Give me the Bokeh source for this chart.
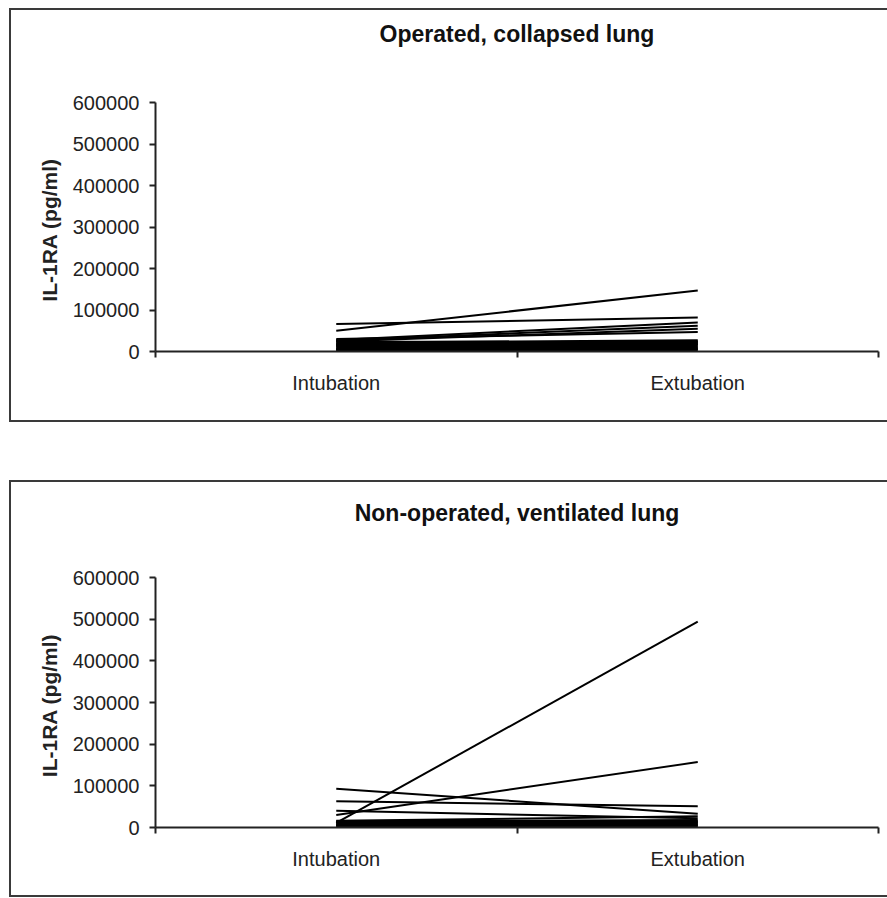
from bokeh.plotting import figure
from bokeh.layouts import column
from bokeh.models import Range1d, FixedTicker, BasicTickFormatter, ColumnDataSource, Title
from bokeh.embed import file_html
from bokeh.resources import INLINE

categories = ["Intubation", "Extubation"]
y_ticks = [0, 100000, 200000, 300000, 400000, 500000, 600000]

titles = ["Operated, collapsed lung", "Non-operated, ventilated lung"]
y_label = "IL-1RA  (pg/ml)"

collapsed_intubation = [50000, 66000, 28000, 30000, 26000, 24000, 22000, 20000, 18000, 16000,
                        14000, 12000, 10000, 8000, 6000, 4000, 2000, 25000, 15000, 5000]
collapsed_extubation = [147000, 82000, 70000, 47000, 62000, 55000, 27000, 25000, 22000, 20000,
                        18000, 15000, 12000, 10000, 8000, 5000, 3000, 17000, 6000, 23000]

ventilated_intubation = [11000, 30000, 93000, 63000, 40000, 16000, 14000, 12000, 10000, 8000,
                         6000, 4000, 2000, 15000, 5000]
ventilated_extubation = [494000, 157000, 33000, 51000, 22000, 27000, 15000, 12000, 10000, 8000,
                         6000, 4000, 2000, 18000, 14000]

FONT = "Liberation Sans"
AXIS_COLOR = "#222222"


def make_panel(title, intub, extub, height, top, bottom, gap):
    centers = [i + 0.5 for i in range(len(categories))]
    bounds = list(range(len(categories) + 1))
    p = figure(width=878, height=height, output_backend="svg", toolbar_location=None,
               x_range=Range1d(0, len(categories)), y_range=Range1d(y_ticks[0], y_ticks[-1]),
               min_border_left=144, min_border_right=11, min_border_top=top,
               min_border_bottom=bottom, title=None)
    p.styles = {"border-top": "2px solid #3a3a3a", "border-left": "2px solid #3a3a3a",
                "border-bottom": "2px solid #3a3a3a"}
    p.outline_line_color = None
    p.grid.visible = False

    # an invisible spacer keeps the title away from the plot frame
    p.add_layout(Title(text=" ", text_font_size="10px", standoff=gap), "above")
    p.add_layout(Title(text=title, align="center", text_font=FONT, text_font_size="23px",
                       text_font_style="bold", text_color="#111111"), "above")

    xs = [[centers[0], centers[1]] for _ in intub]
    ys = [[a, b] for a, b in zip(intub, extub)]
    src = ColumnDataSource(dict(xs=xs, ys=ys))
    p.multi_line("xs", "ys", source=src, line_color="black", line_width=2)

    xa = p.xaxis[0]
    xa.ticker = FixedTicker(ticks=centers, minor_ticks=bounds)
    xa.major_label_overrides = {c: cat for c, cat in zip(centers, categories)}
    xa.major_tick_out = 0
    xa.major_tick_in = 0
    xa.minor_tick_out = 6
    xa.minor_tick_in = 0
    xa.minor_tick_line_color = AXIS_COLOR
    xa.minor_tick_line_width = 2
    xa.axis_line_color = AXIS_COLOR
    xa.axis_line_width = 2
    xa.major_label_text_font = FONT
    xa.major_label_text_font_size = "20px"
    xa.major_label_text_color = "#222222"
    xa.major_label_standoff = 14

    ya = p.yaxis[0]
    ya.ticker = FixedTicker(ticks=y_ticks)
    ya.formatter = BasicTickFormatter(use_scientific=False)
    ya.minor_tick_line_color = None
    ya.major_tick_out = 6
    ya.major_tick_in = 0
    ya.major_tick_line_color = AXIS_COLOR
    ya.major_tick_line_width = 2
    ya.axis_line_color = AXIS_COLOR
    ya.axis_line_width = 2
    ya.major_label_text_font = FONT
    ya.major_label_text_font_size = "20px"
    ya.major_label_text_color = "#222222"
    ya.major_label_standoff = 10
    ya.axis_label = y_label
    ya.axis_label_text_font = FONT
    ya.axis_label_text_font_size = "21px"
    ya.axis_label_text_font_style = "bold"
    ya.axis_label_text_color = "#222222"
    ya.axis_label_standoff = 9
    return p


p1 = make_panel(titles[0], collapsed_intubation, collapsed_extubation, 414, 92, 73, 38)
p2 = make_panel(titles[1], ventilated_intubation, ventilated_extubation, 417, 95, 72, 34)

layout = column(p1, p2, spacing=58, margin=(8, 0, 0, 9))
open("out.html", "w").write(file_html(layout, INLINE))
